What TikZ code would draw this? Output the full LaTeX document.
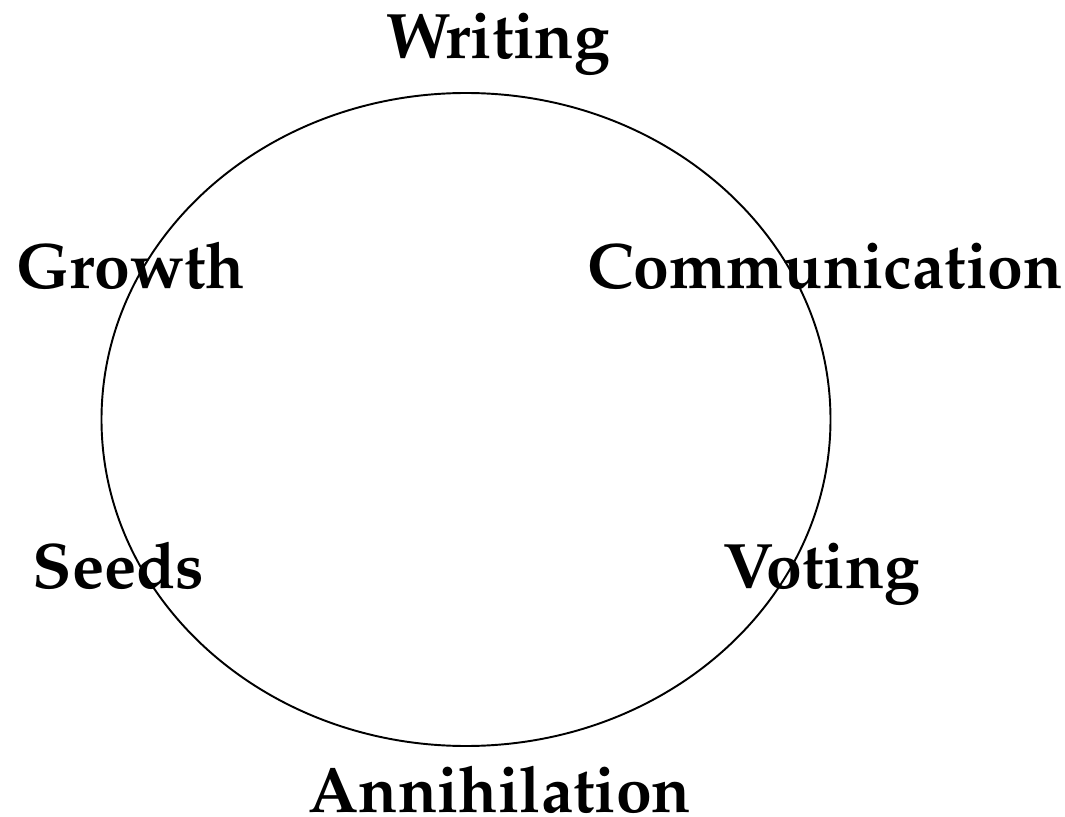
\documentclass[tikz,border=0pt]{standalone}
\usepackage[T1]{fontenc}
\usepackage{mathpazo}
\usetikzlibrary{positioning}

\tikzset{
  topic/.style={font=\fontsize{36.6}{44}\selectfont\bfseries, anchor=base, inner sep=0pt}
}

\begin{document}
\begin{tikzpicture}[x=0.02cm, y=-0.02cm]
\useasboundingbox (0,0) rectangle (1065,817);

% the cycle
\coordinate (hub) at (466,419.5);
\draw[line width=1.1pt] (hub) ellipse [x radius=364.5, y radius=326.5];

% labels round the cycle
\node[topic] (writing) at (498,59) {Writing};
\node[topic] (growth) at (130.5,289) {Growth};
\node[topic] (comm) at (825,289) {Communication};
\node[topic] (seeds) at (118.5,588) {Seeds};
\node[topic] (voting) at (822,588) {Voting};
\node[topic] (annih) at (500,812) {Annihilation};

\end{tikzpicture}
\end{document}
